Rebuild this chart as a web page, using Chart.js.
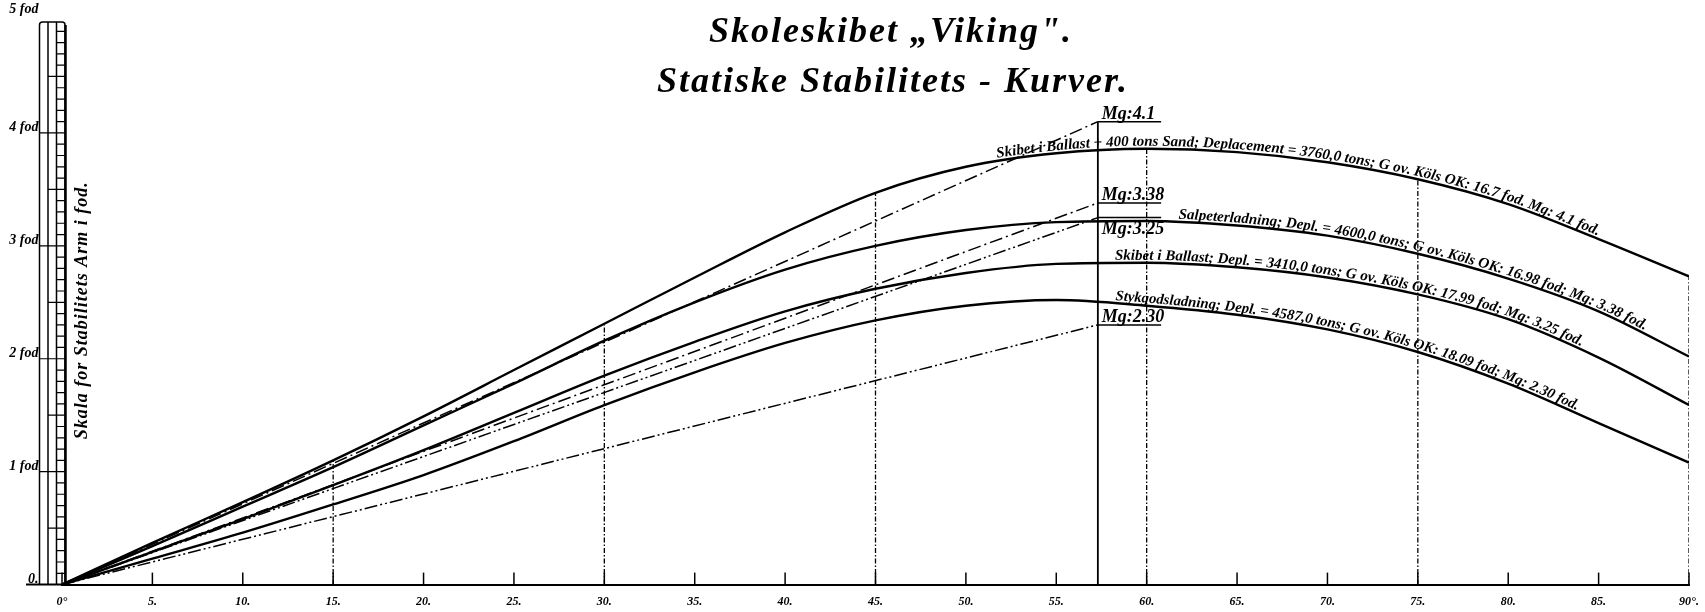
<!DOCTYPE html>
<html>
<head>
<meta charset="utf-8">
<script src="https://cdn.jsdelivr.net/npm/chart.js@4.4.1/dist/chart.umd.min.js"></script>
<style>
  html, body { margin: 0; padding: 0; background: #fff; }
</style>
</head>
<body>
<canvas id="stabilityChart" width="1705" height="612"></canvas>
<script>
// heeling angle in degrees
const angles = [0, 5, 10, 15, 20, 25, 30, 35, 40, 45, 50, 55, 60, 65, 70, 75, 80, 85, 90];
const xTickLabels = ["0°", "5.", "10.", "15.", "20.", "25.", "30.", "35.", "40.", "45.", "50.", "55.", "60.", "65.", "70.", "75.", "80.", "85.", "90°."];
const yTickLabels = ["0.", "1 fod", "2 fod", "3 fod", "4 fod", "5 fod"];

// stability arm in feet
const ballastSand = [0, 0.37, 0.73, 1.10, 1.49, 1.90, 2.31, 2.72, 3.12, 3.47, 3.70, 3.82, 3.86, 3.83, 3.74, 3.59, 3.37, 3.06, 2.73];
const salpeter = [0, 0.34, 0.69, 1.04, 1.41, 1.78, 2.16, 2.50, 2.79, 3.00, 3.14, 3.21, 3.22, 3.18, 3.09, 2.93, 2.71, 2.42, 2.02];
const ballast = [0, 0.29, 0.58, 0.88, 1.19, 1.52, 1.85, 2.15, 2.42, 2.62, 2.76, 2.84, 2.85, 2.81, 2.72, 2.57, 2.35, 2.01, 1.59];
const stykgods = [0, 0.23, 0.46, 0.71, 0.97, 1.27, 1.59, 1.88, 2.14, 2.34, 2.47, 2.52, 2.47, 2.39, 2.26, 2.06, 1.78, 1.43, 1.08];

const mgValues = [4.1, 3.38, 3.25, 2.30];
const mgLabels = ["Mg:4.1", "Mg:3.38", "Mg:3.25", "Mg:2.30"];
const radianAngle = 57.3;
const mgLineEnd = 60.8;
const markAngles = [15, 30, 45, 60, 75, 90];

const curveLabels = [
  "Skibet i Ballast + 400 tons Sand; Deplacement = 3760,0 tons; G ov. Köls OK: 16.7 fod. Mg: 4.1 fod.",
  "Salpeterladning; Depl. = 4600,0 tons; G ov. Köls OK: 16.98 fod; Mg: 3.38 fod.",
  "Skibet i Ballast; Depl. = 3410,0 tons; G ov. Köls OK: 17.99 fod; Mg: 3.25 fod.",
  "Stykgodsladning; Depl. = 4587,0 tons; G ov. Köls OK: 18.09 fod; Mg: 2.30 fod."
];
// where each label runs along its curve (degrees)
const labelSpans = [[51.5, 85.5], [61.5, 87.5], [58.2, 84], [58.2, 83.5]];

const curves = [ballastSand, salpeter, ballast, stykgods];
const dashDot = [13, 4, 2, 4];
const dashDotDot = [13, 3, 2, 3, 2, 3];
const tangentDash = [dashDot, dashDot, dashDotDot, dashDotDot];

const toPoints = arr => angles.map((a, i) => ({ x: a, y: arr[i] }));

const datasets = [];
curves.forEach((arr, k) => {
  datasets.push({
    label: "curve" + k,
    data: toPoints(arr),
    borderColor: "#000",
    borderWidth: 2.4,
    pointRadius: 0,
    cubicInterpolationMode: "monotone"
  });
});
mgValues.forEach((mg, k) => {
  datasets.push({
    label: "tangent" + k,
    data: [{ x: 0, y: 0 }, { x: radianAngle, y: mg }, { x: mgLineEnd, y: mg }],
    borderColor: "#000",
    borderWidth: 1.5,
    pointRadius: 0,
    tension: 0,
    segment: { borderDash: c => c.p0DataIndex === 0 ? tangentDash[k] : [] }
  });
});
markAngles.forEach(a => {
  datasets.push({
    label: "mark" + a,
    data: [{ x: a, y: 0 }, { x: a, y: ballastSand[angles.indexOf(a)] }],
    borderColor: "#000",
    borderWidth: 1.3,
    borderDash: [5, 2, 1.5, 2],
    pointRadius: 0,
    tension: 0
  });
});
datasets.push({
  label: "radian",
  data: [{ x: radianAngle, y: 0 }, { x: radianAngle, y: mgValues[0] }],
  borderColor: "#000",
  borderWidth: 1.8,
  pointRadius: 0,
  tension: 0
});

const hand = "italic bold ";
const face = "\"Liberation Serif\", serif";

function curvePath(meta) {
  const pts = meta.data;
  const out = [];
  for (let i = 0; i < pts.length - 1; i++) {
    const a = pts[i], b = pts[i + 1];
    const c1x = a.cp2x ?? a.x, c1y = a.cp2y ?? a.y;
    const c2x = b.cp1x ?? b.x, c2y = b.cp1y ?? b.y;
    for (let s = 0; s < 20; s++) {
      const t = s / 20, u = 1 - t;
      out.push({
        x: u * u * u * a.x + 3 * u * u * t * c1x + 3 * u * t * t * c2x + t * t * t * b.x,
        y: u * u * u * a.y + 3 * u * u * t * c1y + 3 * u * t * t * c2y + t * t * t * b.y
      });
    }
  }
  const last = pts[pts.length - 1];
  out.push({ x: last.x, y: last.y });
  let len = 0;
  out.forEach((p, i) => {
    if (i > 0) len += Math.hypot(p.x - out[i - 1].x, p.y - out[i - 1].y);
    p.s = len;
  });
  return out;
}

function pointAt(path, s) {
  for (let i = 1; i < path.length; i++) {
    if (path[i].s >= s) {
      const p = path[i - 1], q = path[i];
      const t = (s - p.s) / (q.s - p.s || 1);
      return { x: p.x + (q.x - p.x) * t, y: p.y + (q.y - p.y) * t, a: Math.atan2(q.y - p.y, q.x - p.x) };
    }
  }
  const p = path[path.length - 2], q = path[path.length - 1];
  return { x: q.x, y: q.y, a: Math.atan2(q.y - p.y, q.x - p.x) };
}

function arcAtX(path, x) {
  for (let i = 1; i < path.length; i++) {
    if (path[i].x >= x) return path[i].s;
  }
  return path[path.length - 1].s;
}

const drawing = {
  id: "drawing",
  afterDatasetsDraw(chart) {
    const { ctx, chartArea, scales } = chart;
    const xs = scales.x, ys = scales.y;
    const y0 = ys.getPixelForValue(0);
    ctx.save();
    ctx.strokeStyle = "#000";
    ctx.fillStyle = "#000";

    // baseline running under the ruler
    ctx.lineWidth = 2;
    ctx.beginPath();
    ctx.moveTo(26, y0);
    ctx.lineTo(chartArea.left, y0);
    ctx.stroke();

    // short ticks standing on the axis
    ctx.lineWidth = 1.5;
    xs.ticks.forEach(t => {
      const px = xs.getPixelForValue(t.value);
      ctx.beginPath();
      ctx.moveTo(px, y0);
      ctx.lineTo(px, y0 - 12);
      ctx.stroke();
    });

    // the scale ruler
    const r = chartArea.left + 3, w = 8.5;
    const top = ys.getPixelForValue(5) + 2;
    ctx.lineWidth = 1.5;
    ctx.beginPath();
    ctx.moveTo(r - 3 * w, y0);
    ctx.lineTo(r - 3 * w, top + 3);
    ctx.quadraticCurveTo(r - 3 * w, top, r - 3 * w + 3, top);
    ctx.lineTo(r - 3, top);
    ctx.quadraticCurveTo(r, top, r, top + 3);
    ctx.lineTo(r, y0);
    ctx.moveTo(r - 2 * w, top);
    ctx.lineTo(r - 2 * w, y0);
    ctx.moveTo(r - w, top);
    ctx.lineTo(r - w, y0);
    ctx.stroke();
    ctx.lineWidth = 2.5;
    ctx.beginPath();
    ctx.moveTo(r + 0.5, top + 3);
    ctx.lineTo(r + 0.5, y0);
    ctx.stroke();
    ctx.lineWidth = 1.2;
    ctx.beginPath();
    for (let v = 1; v < 50; v++) {
      const py = ys.getPixelForValue(v / 10);
      ctx.moveTo(r - w, py);
      ctx.lineTo(r, py);
      if (v % 10 === 0) {
        ctx.moveTo(r - 3 * w, py);
        ctx.lineTo(r - w, py);
      } else if (v % 5 === 0) {
        ctx.moveTo(r - 2 * w, py);
        ctx.lineTo(r - w, py);
      }
    }
    ctx.stroke();

    // foot labels
    ctx.font = hand + "14px " + face;
    ctx.textAlign = "right";
    ctx.textBaseline = "alphabetic";
    yTickLabels.forEach((lab, v) => {
      const py = ys.getPixelForValue(v);
      ctx.fillText(lab, r - 3 * w - 1, v === 5 ? py - 7 : py - 2);
    });

    // rotated axis caption
    ctx.save();
    ctx.translate(chartArea.left + 25, ys.getPixelForValue(2.43));
    ctx.rotate(-Math.PI / 2);
    ctx.textAlign = "center";
    ctx.font = hand + "18px " + face;
    ctx.letterSpacing = "1px";
    ctx.fillText("Skala for Stabilitets Arm i fod.", 0, 0);
    ctx.restore();

    // Mg labels at the radian line
    const rx = xs.getPixelForValue(radianAngle);
    ctx.textAlign = "left";
    ctx.font = hand + "18px " + face;
    mgValues.forEach((mg, k) => {
      const py = ys.getPixelForValue(mg);
      if (k === 2) {
        ctx.textBaseline = "top";
        ctx.fillText(mgLabels[k], rx + 4, py + 3);
      } else {
        ctx.textBaseline = "alphabetic";
        ctx.fillText(mgLabels[k], rx + 4, py - 3);
      }
    });

    // labels written along the curves
    ctx.textBaseline = "alphabetic";
    ctx.textAlign = "left";
    curves.forEach((arr, k) => {
      const path = curvePath(chart.getDatasetMeta(k));
      const s0 = arcAtX(path, xs.getPixelForValue(labelSpans[k][0]));
      const s1 = arcAtX(path, xs.getPixelForValue(labelSpans[k][1]));
      const text = curveLabels[k];
      ctx.font = hand + "20px " + face;
      const full = ctx.measureText(text).width;
      const size = Math.min(15, 20 * (s1 - s0) / full);
      ctx.font = hand + size.toFixed(2) + "px " + face;
      for (let i = 0; i < text.length; i++) {
        const ch = text[i];
        if (ch === " ") continue;
        const off = ctx.measureText(text.slice(0, i)).width;
        const cw = ctx.measureText(ch).width;
        const p = pointAt(path, s0 + off + cw / 2);
        ctx.save();
        ctx.translate(p.x, p.y);
        ctx.rotate(p.a);
        ctx.fillText(ch, -cw / 2, -3);
        ctx.restore();
      }
    });

    // title
    ctx.textAlign = "center";
    ctx.font = hand + "36px " + face;
    ctx.letterSpacing = "2px";
    ctx.fillText("Skoleskibet „Viking\".", 891, 42);
    ctx.fillText("Statiske Stabilitets - Kurver.", 893, 92);
    ctx.restore();
  }
};

new Chart(document.getElementById("stabilityChart").getContext("2d"), {
  type: "line",
  data: { datasets },
  plugins: [drawing],
  options: {
    responsive: false,
    animation: false,
    devicePixelRatio: 1,
    layout: { padding: { left: 62, right: 16, top: 20, bottom: 1 } },
    plugins: { legend: { display: false }, tooltip: { enabled: false }, title: { display: false } },
    scales: {
      x: {
        type: "linear",
        min: 0,
        max: 90,
        grid: { display: false },
        border: { display: true, color: "#000", width: 2 },
        ticks: {
          stepSize: 5,
          color: "#000",
          padding: 2,
          font: { family: "Liberation Serif", size: 12, style: "italic", weight: "bold" },
          callback: (v, i) => xTickLabels[i]
        }
      },
      y: {
        type: "linear",
        min: 0,
        max: 5,
        display: false
      }
    }
  }
});
</script>
</body>
</html>
